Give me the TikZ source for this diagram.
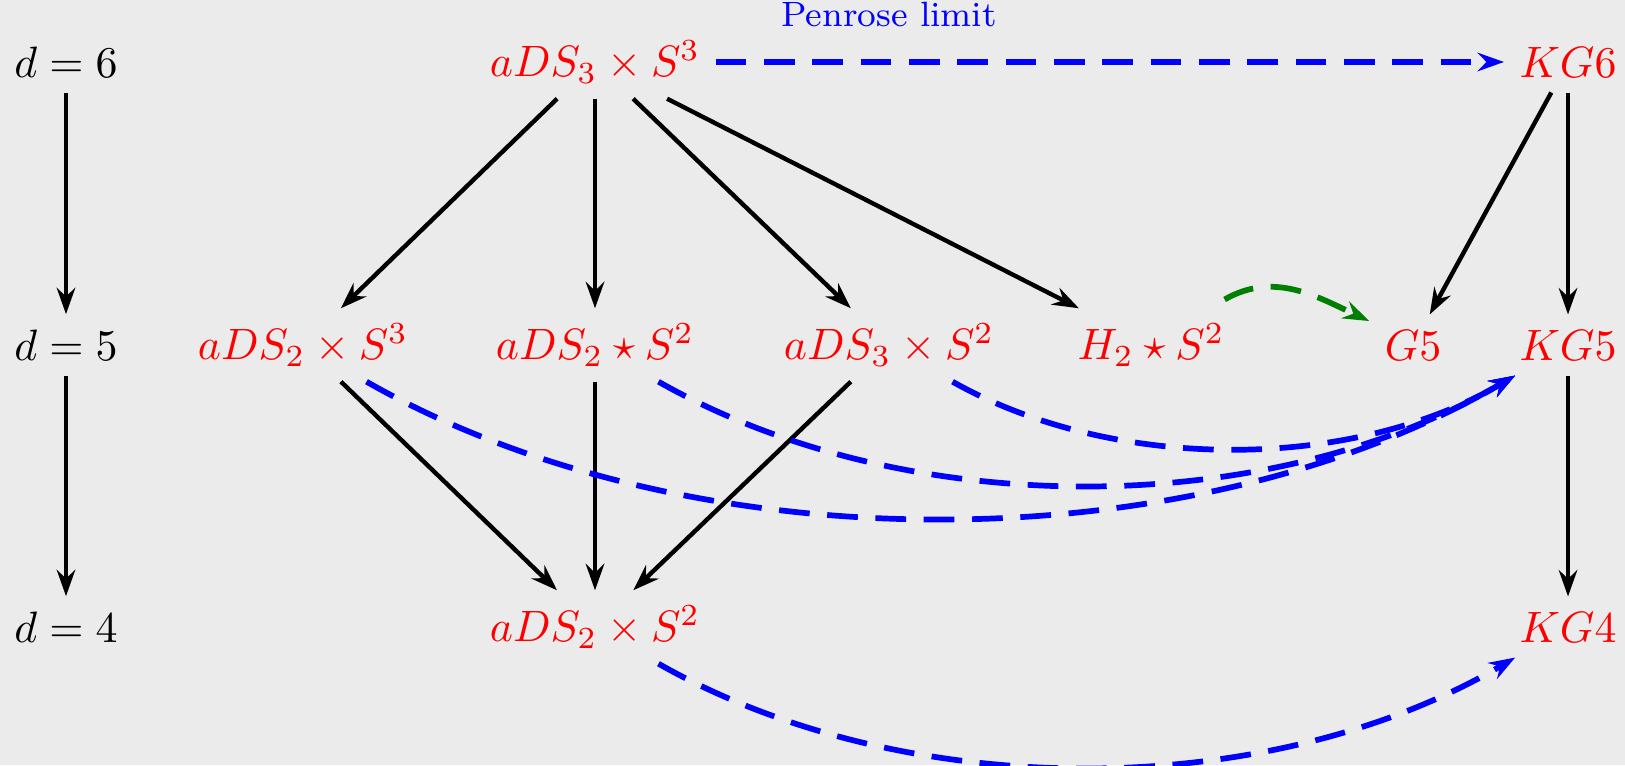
\documentclass[tikz,border=0pt]{standalone}
\usepackage{tikz}
\usetikzlibrary{arrows.meta, calc, positioning}
\definecolor{bggray}{RGB}{235,235,235}

\begin{document}
\begin{tikzpicture}[
  geom/.style={text=red},
  reduce/.style={-{Stealth[length=6pt, width=4.2pt, inset=2pt]}, line width=1pt},
  limit/.style={-{Stealth[length=6pt, width=4.2pt, inset=2pt]}, blue, line width=1.3pt, dash pattern=on 7pt off 4pt},
  flow/.style={-{Stealth[length=6pt, width=4.2pt, inset=2pt]}, green!50!black, line width=1.3pt, dash pattern=on 7pt off 4pt}
]

% Background and bounding box
\fill[bggray] (0,0) rectangle (13,6.12);
\useasboundingbox (0,0) rectangle (13,6.12);

% Dimension column
\node (d6) at (0.528,5.624) {$d=6$};
\node (d5) at (0.528,3.36) {$d=5$};
\node (d4) at (0.528,1.104) {$d=4$};

% Geometries in d=6
\node[geom] (ads3s3) at (4.76,5.624) {$aDS_3\times S^3$};
\node[geom] (kg6) at (12.544,5.624) {$KG6$};

% Geometries in d=5
\node[geom] (ads2s3) at (2.424,3.36) {$aDS_2\times S^3$};
\node[geom] (ads2ss2) at (4.76,3.36) {$aDS_2\star S^2$};
\node[geom] (ads3s2) at (7.112,3.36) {$aDS_3\times S^2$};
\node[geom] (h2s2) at (9.208,3.36) {$H_2\star S^2$};
\node[geom] (g5) at (11.304,3.36) {$G5$};
\node[geom] (kg5) at (12.544,3.36) {$KG5$};

% Geometries in d=4
\node[geom] (ads2s2) at (4.76,1.104) {$aDS_2\times S^2$};
\node[geom] (kg4) at (12.544,1.104) {$KG4$};

% Reductions
\draw[reduce] (d6) -- (d5);
\draw[reduce] (d5) -- (d4);
\draw[reduce] (ads3s3) -- (ads2s3);
\draw[reduce] (ads3s3) -- (ads2ss2);
\draw[reduce] (ads3s3) -- (ads3s2);
\draw[reduce] (ads3s3) -- (h2s2);
\draw[reduce] (kg6) -- (g5);
\draw[reduce] (kg6) -- (kg5);
\draw[reduce] (kg5) -- (kg4);
\draw[reduce] (ads2s3) -- (ads2s2);
\draw[reduce] (ads2ss2) -- (ads2s2);
\draw[reduce] (ads3s2) -- (ads2s2);

% Penrose limits
\draw[limit] (ads3s3) -- (kg6) node[pos=0.22, above=4pt, font=\footnotesize] {Penrose limit};
\draw[limit] (ads2s3) to[bend right=30, looseness=0.83] (kg5);
\draw[limit] (ads2ss2) to[bend right=30, looseness=0.85] (kg5);
\draw[limit] (ads3s2) to[bend right=30, looseness=0.85] (kg5);
\draw[limit] (ads2s2) to[bend right=30, looseness=0.85] (kg4);

\draw[flow] ([shift={(-3.5pt,2pt)}]h2s2.north east) to[out=30, in=155] ([yshift=-1.5pt]g5.north west);

\end{tikzpicture}
\end{document}
